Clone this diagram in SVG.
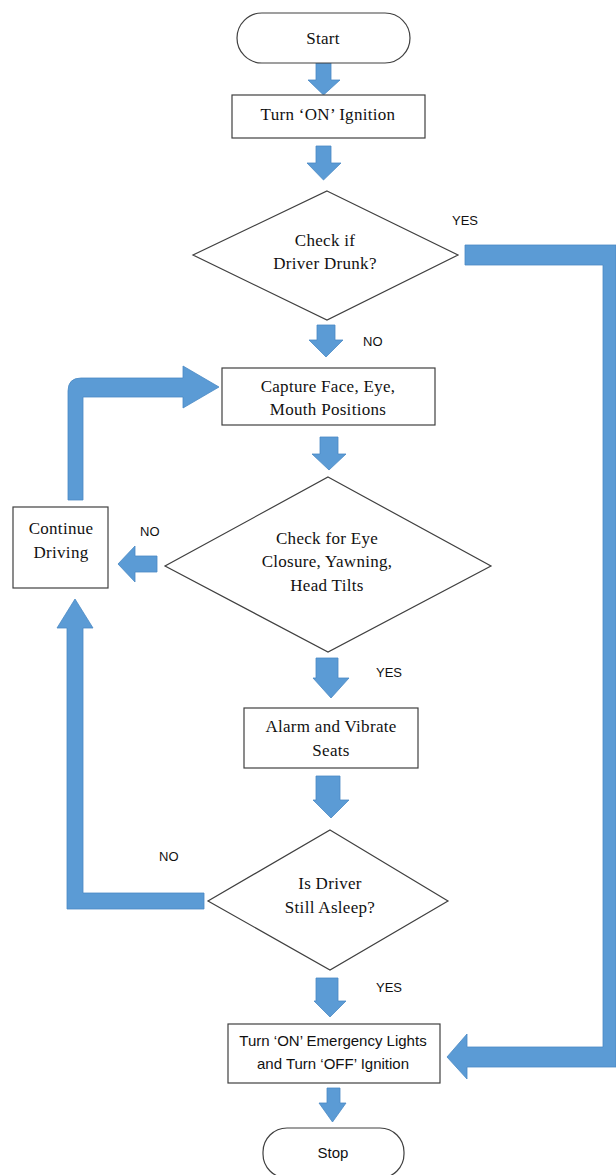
<svg xmlns="http://www.w3.org/2000/svg" width="616" height="1175" viewBox="0 0 616 1175">
<style>
.shape{fill:#fff;stroke:#404040;stroke-width:1.2}
.st{font-family:"Liberation Serif",serif;font-size:17px;letter-spacing:0.3px;fill:#111;text-anchor:middle}
.ss{font-family:"Liberation Sans",sans-serif;font-size:15px;fill:#111;text-anchor:middle}
.lbl{font-family:"Liberation Sans",sans-serif;font-size:13px;fill:#111}
.arr{fill:#5B9BD5;stroke:#4A89C4;stroke-width:0.8}
</style>
<rect width="616" height="1175" fill="#fff"/>
<g id="connectors">
<path class="arr" d="M316,63 H331 V80 H340 L323.5,95 L308,80 H316 Z"/>
<path class="arr" d="M316,146 H331 V163 H341 L323.5,180 L307,163 H316 Z"/>
<path class="arr" d="M317,325 H335 V340 H343 L326,357 L309,340 H317 Z"/>
<path class="arr" d="M320,437 H338 V454 H346 L329,470 L312,454 H320 Z"/>
<path class="arr" d="M316,658 H338 V678 H349 L331,698 L313,678 H316 Z"/>
<path class="arr" d="M316,776 H340 V800 H349 L331,818 L313,800 H316 Z"/>
<path class="arr" d="M316,978 H338 V1001 H346 L330,1017 L314,1001 H316 Z"/>
<path class="arr" d="M327,1088 H340 V1103 H346 L332.5,1122 L319,1103 H327 Z"/>
<path class="arr" d="M157,556 V572 H135 V582 L118,564 L135,546 V556 Z"/>
<path class="arr" d="M68,500 V391 Q68,378 81,378 H183 V366 L219,387 L183,408 V397 H83 V500 Z"/>
<path class="arr" d="M204,893 H83 V628 H93 L75,599 L57,628 H67 V909 H204 Z"/>
<path class="arr" d="M465,245 H616 V1067 H467 V1079 L447,1057 L467,1034 V1047 H603 V265 H465 Z"/>
<text class="lbl" x="452" y="225">YES</text>
<text class="lbl" x="363" y="346">NO</text>
<text class="lbl" x="140" y="536">NO</text>
<text class="lbl" x="376" y="677">YES</text>
<text class="lbl" x="159" y="861">NO</text>
<text class="lbl" x="376" y="992">YES</text>
</g>
<g id="start">
<rect class="shape" x="237" y="13" width="173" height="50" rx="25" ry="25"/>
<text class="st" x="323" y="44">Start</text>
</g>
<g id="ignition">
<rect class="shape" x="232" y="95" width="193" height="43"/>
<text class="st" x="328" y="120">Turn ‘ON’ Ignition</text>
</g>
<g id="drunk">
<polygon class="shape" points="327,191 458,255 327,320 193,255"/>
<text class="st" x="325" y="246">Check if</text>
<text class="st" x="325" y="269">Driver Drunk?</text>
</g>
<g id="capture">
<rect class="shape" x="222" y="368" width="213" height="57"/>
<text class="st" x="328" y="392">Capture Face, Eye,</text>
<text class="st" x="328" y="415">Mouth Positions</text>
</g>
<g id="continue">
<rect class="shape" x="13" y="507" width="95" height="81"/>
<text class="st" x="61" y="534">Continue</text>
<text class="st" x="61" y="558">Driving</text>
</g>
<g id="check">
<polygon class="shape" points="328,477 491,566 328,652 165,566"/>
<text class="st" x="327" y="544">Check for Eye</text>
<text class="st" x="327" y="567">Closure, Yawning,</text>
<text class="st" x="327" y="591">Head Tilts</text>
</g>
<g id="alarm">
<rect class="shape" x="244" y="708" width="174" height="60"/>
<text class="st" x="331" y="732">Alarm and Vibrate</text>
<text class="st" x="331" y="756">Seats</text>
</g>
<g id="asleep">
<polygon class="shape" points="330,830 448,901 330,970 208,901"/>
<text class="st" x="330" y="889">Is Driver</text>
<text class="st" x="330" y="913">Still Asleep?</text>
</g>
<g id="emergency">
<rect class="shape" x="228" y="1024" width="212" height="59"/>
<text class="ss" x="333" y="1046">Turn ‘ON’ Emergency Lights</text>
<text class="ss" x="333" y="1069">and Turn ‘OFF’ Ignition</text>
</g>
<g id="stop">
<rect class="shape" x="263" y="1128" width="141" height="50" rx="24" ry="24"/>
<text class="ss" x="333" y="1158">Stop</text>
</g>
</svg>
